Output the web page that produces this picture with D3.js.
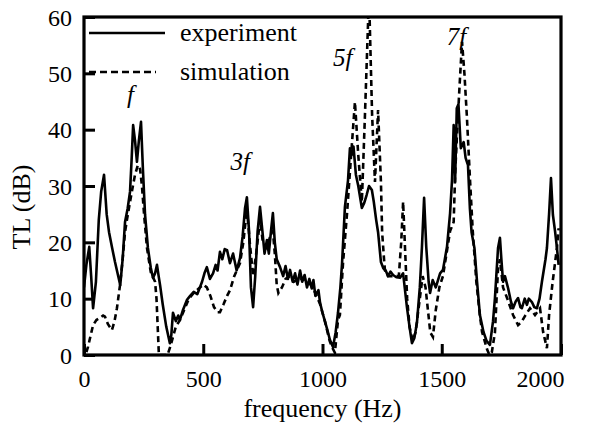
<!DOCTYPE html>
<html>
<head>
<meta charset="UTF-8">
<title>TL vs frequency</title>
<script src="https://d3js.org/d3.v7.min.js"></script>
<style>
  body { margin: 0; background: #fff; }
  svg text { font-family: "Liberation Serif", "Times New Roman", "DejaVu Serif", serif; fill: #000; }
</style>
</head>
<body>
<svg width="590" height="423"></svg>
<script>
// frequency (Hz), TL (dB)
const expFreq = [0,10,22,30,38,50,62,72,84,95,105,118,130,145,152,162,172,183,193,200,206,214,222,230,239,247,256,268,280,289,298,306,313,319,330,345,360,366,373,385,395,402,415,432,445,460,475,486,495,505,515,528,541,552,560,570,580,590,600,612,625,640,654,665,675,683,692,700,709,718,728,738,748,757,767,775,784,792,800,808,822,835,845,855,864,875,885,895,906,915,925,935,945,955,962,970,983,990,1000,1010,1020,1031,1044,1055,1065,1075,1082,1094,1107,1115,1122,1130,1140,1150,1165,1175,1185,1195,1207,1215,1225,1233,1245,1255,1265,1275,1285,1296,1310,1325,1338,1354,1365,1375,1385,1396,1408,1417,1426,1435,1445,1451,1462,1475,1493,1505,1522,1535,1543,1550,1556,1563,1570,1580,1592,1600,1610,1618,1625,1637,1648,1660,1675,1688,1702,1715,1723,1736,1744,1750,1757,1765,1778,1790,1799,1810,1820,1830,1836,1848,1857,1865,1878,1888,1899,1910,1920,1935,1941,1950,1958,1966,1975,1983,1990];
const expTL = [12,16,19.2,14,8.3,13,24,29,32,25,21.8,19,16.5,13.7,12.4,17,23.6,26,29,35,40.8,38,34.3,38,41.4,33,24.9,19,15.5,13.7,14.5,16,14,12.4,9,5,2.1,3.5,7.5,6,7,6.2,8,9.8,10.5,11.2,10.8,12,13,14.5,15.6,13.5,14.5,16,15,18.3,17,18.8,18.6,16.3,18,15,17.2,21,26,28,22,12,8.5,14,22,26.3,22,18,20.4,18,22,25.2,20,17,15.6,14,15.8,13.5,15.1,13,14.5,12.5,15,13,14.2,12,13.5,11.8,13.3,10.5,11.5,9.2,7.5,6,4.5,2.7,1.4,4,7.5,12,16.3,26.3,31,36.7,35.5,37,32,30,26.1,27,28.4,30,29.3,27.2,24,21.8,16.5,15.4,15,14,14.8,14.2,13.8,13.7,14.5,8.5,5,2.1,3,5.7,12,19.2,27.9,19.2,13,11,13.3,12,14.5,15.1,19.2,25.2,31,40.8,30.7,43.8,44.5,36.7,37.8,35,33.7,26,21.8,19,13,7.1,4.1,2.5,1.8,6,10.1,19,20.8,17,13,14,11.9,9.5,8.3,9.5,10.1,8.5,8.3,10,8.9,10,9.4,8.5,8.3,10,13,17,19,25,31.4,24.9,22,19,16];

const simFreq = [10,17,28,38,52,67,80,88,100,117,128,138,151,162,172,180,193,205,214,226,235,243,252,264,280,298,304,310,314,350,362,373,385,402,420,440,460,486,500,515,530,545,560,570,585,600,612,630,654,668,683,695,709,722,738,750,767,780,792,800,808,815,830,845,864,880,900,925,950,970,990,1010,1030,1040,1052,1065,1073,1086,1103,1120,1136,1150,1165,1178,1195,1208,1220,1233,1245,1250,1258,1262,1275,1300,1320,1330,1338,1345,1355,1365,1378,1390,1405,1420,1432,1442,1452,1463,1475,1490,1505,1520,1535,1550,1556,1565,1575,1585,1595,1605,1619,1630,1645,1660,1669,1690,1700,1710,1723,1736,1744,1757,1775,1799,1820,1835,1850,1870,1891,1912,1925,1941,1950,1965,1983,1990];
const simTL = [0.5,1.5,3.5,5.3,6.2,6.6,7,6.8,5.5,4.4,6,8.3,12.4,17,21.8,24,27.2,30,32,33.7,33,30,24.9,19,14.7,13,10,4,0,0,1.5,3.2,5,6.2,8,10,11,12,12.5,12,10.5,8.5,7.6,7.6,9,10.5,11.5,14,16.3,20,26,20,14,18,24,20,19,21,22,18,12.5,11,12,13.5,14,13,13.5,13.5,12.5,11,9,6,2.5,1.4,0.4,6.2,7.1,16.3,25.2,35.5,44.9,35.5,27.2,42.6,64,42.6,30.7,43.5,30.7,21.8,17,15,14,14,14,20,27.2,20,10,5,2.5,4,9,14,12,8,4,3.2,8,12,14,18,22,23.6,32,40,48,55.6,50,42.6,30.7,22,13,7,4.1,1,0,0.5,4,15.4,17,12,10,7.1,5.3,5.9,7,8.3,7.1,8.3,4.1,1.2,7.1,13,19,22.5];

const yTicks = [0, 10, 20, 30, 40, 50, 60];
const xTicks = [0, 500, 1000, 1500, 2000];
const seriesNames = ["experiment", "simulation"];
const harmonics = [
  { label: "f", f: 195, db: 44.7 },
  { label: "3f", f: 655, db: 32.8 },
  { label: "5f", f: 1085, db: 51.3 },
  { label: "7f", f: 1562, db: 55 }
];

const serif = '"Liberation Serif", "Times New Roman", Times, "DejaVu Serif", serif';
const svg = d3.select("svg");
const pLeft = 84, pRight = 561, pTop = 17, pBottom = 355;

const x = d3.scaleLinear().domain([0, 2000]).range([pLeft, pRight]);
const y = d3.scaleLinear().domain([0, 60]).range([pBottom, pTop]);

svg.append("defs").append("clipPath").attr("id", "plot")
  .append("rect").attr("x", pLeft).attr("y", pTop)
  .attr("width", pRight - pLeft).attr("height", pBottom - pTop);

// y axis, ticks pointing inward
const yAxis = svg.append("g")
  .attr("transform", `translate(${pLeft},0)`)
  .call(d3.axisLeft(y).tickValues(yTicks).tickSize(-11).tickPadding(12));
yAxis.attr("font-family", null).attr("font-size", null);
yAxis.select(".domain").remove();
yAxis.selectAll("line").attr("stroke", "#000").attr("stroke-width", 3);
yAxis.selectAll("text").style("font-family", serif).style("font-size", "24px").attr("dy", "0.34em");

// x axis
const xAxis = svg.append("g")
  .attr("transform", `translate(0,${pBottom})`)
  .call(d3.axisBottom(x).tickValues(xTicks).tickFormat(d3.format("d"))
    .tickSize(-11).tickPadding(15));
xAxis.attr("font-family", null).attr("font-size", null);
xAxis.select(".domain").remove();
xAxis.selectAll("line").attr("stroke", "#000").attr("stroke-width", 3);
xAxis.selectAll("text").style("font-family", serif).style("font-size", "24px");
xAxis.selectAll(".tick").filter(d => d === 2000).select("text")
  .attr("text-anchor", "end").attr("x", 3);

// data lines
const line = d3.line().x(d => x(d[0])).y(d => y(d[1]));
const plot = svg.append("g").attr("clip-path", "url(#plot)");

plot.append("path")
  .datum(simFreq.map((f, i) => [f, simTL[i]]))
  .attr("d", line)
  .attr("fill", "none").attr("stroke", "#000")
  .attr("stroke-width", 2.6).attr("stroke-dasharray", "6,4");

plot.append("path")
  .datum(expFreq.map((f, i) => [f, expTL[i]]))
  .attr("d", line)
  .attr("fill", "none").attr("stroke", "#000")
  .attr("stroke-width", 2.6).attr("stroke-linejoin", "round");

// frame
svg.append("rect")
  .attr("x", pLeft).attr("y", pTop)
  .attr("width", pRight - pLeft).attr("height", pBottom - pTop)
  .attr("fill", "none").attr("stroke", "#000").attr("stroke-width", 3.2);

// legend
const legend = svg.append("g");
seriesNames.forEach((name, i) => {
  const ly = 33 + i * 39;
  legend.append("line")
    .attr("x1", 89).attr("x2", i ? 156 : 165)
    .attr("y1", ly).attr("y2", ly)
    .attr("stroke", "#000").attr("stroke-width", 2.6)
    .attr("stroke-dasharray", i ? "7,4" : null);
  legend.append("text")
    .attr("x", 180).attr("y", ly + 8)
    .style("font-family", serif)
    .style("font-size", "26px")
    .text(name);
});

// harmonic annotations
svg.selectAll(".harm")
  .data(harmonics)
  .enter().append("text")
  .attr("class", "harm")
  .attr("x", d => x(d.f)).attr("y", d => y(d.db))
  .attr("text-anchor", "middle")
  .style("font-family", serif)
  .style("font-size", "25px")
  .style("font-style", "italic")
  .text(d => d.label);

// axis titles
svg.append("text")
  .attr("x", (pLeft + pRight) / 2).attr("y", 417)
  .attr("text-anchor", "middle")
  .style("font-family", serif)
  .style("font-size", "26px")
  .text("frequency (Hz)");

svg.append("text")
  .attr("transform", "translate(30,207) rotate(-90)")
  .attr("text-anchor", "middle")
  .style("font-family", serif)
  .style("font-size", "26px")
  .text("TL (dB)");
</script>
</body>
</html>
